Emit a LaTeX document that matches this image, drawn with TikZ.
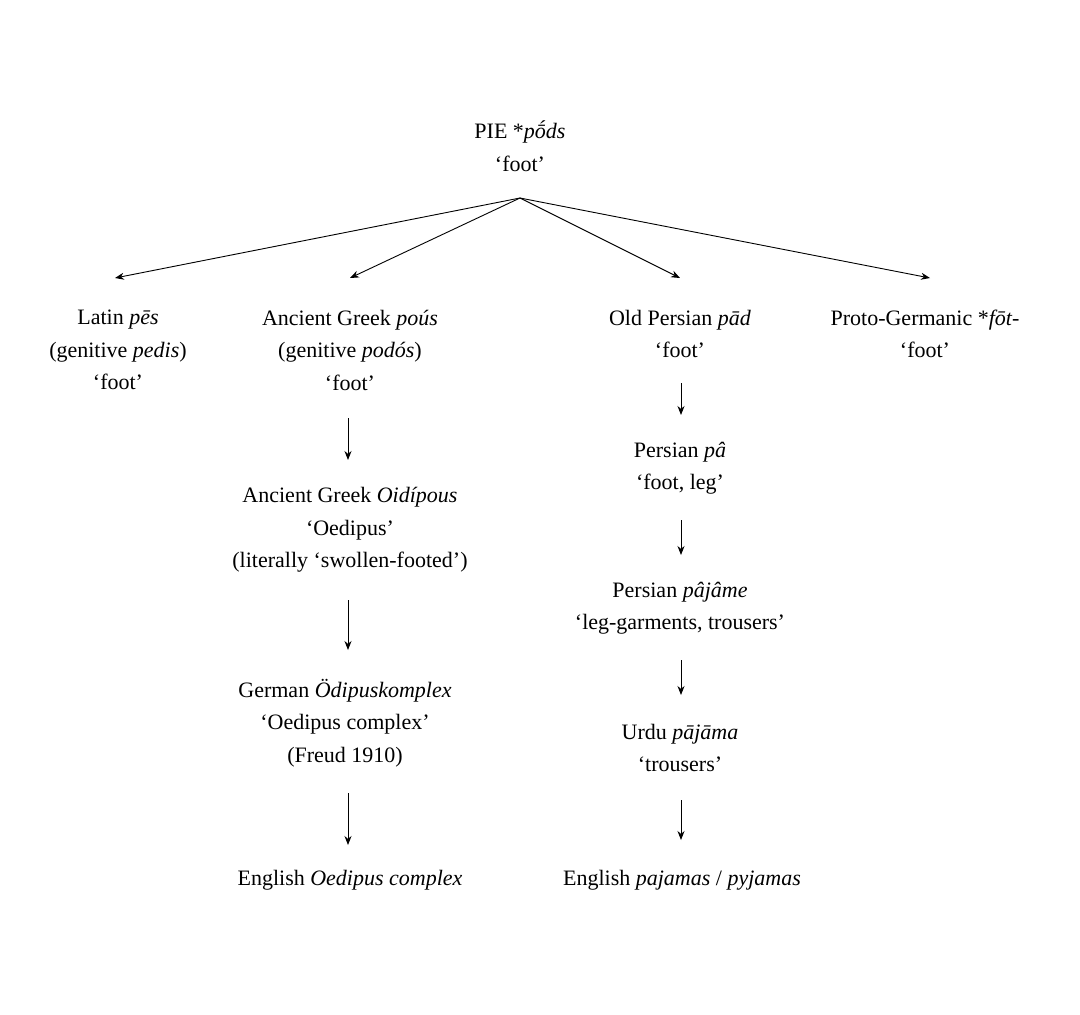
\documentclass[tikz,border=0pt]{standalone}
\usepackage{fontspec}
\setmainfont{Liberation Serif}
\usetikzlibrary{arrows.meta}
\begin{document}
\begin{tikzpicture}[x=1pt,y=-1pt,
  lbl/.style={align=center,font=\fontsize{22}{32.5}\selectfont,inner sep=0pt,outer sep=14pt},
  arr/.style={-{Stealth[length=9pt,width=7pt]},line width=0.9pt}]
\useasboundingbox (0,0) rectangle (1080,1015);
\node[lbl] (pie) at (520,146) {PIE *\textit{pṓds}\\‘foot’};
\node[lbl] (lat) at (118,350) {Latin \textit{pēs}\\(genitive \textit{pedis})\\‘foot’};
\node[lbl] (gr) at (350,350) {Ancient Greek \textit{poús}\\(genitive \textit{podós})\\‘foot’};
\node[lbl] (op) at (680,334) {Old Persian \textit{pād}\\‘foot’};
\node[lbl] (pg) at (925,334) {Proto-Germanic *\textit{fōt-}\\‘foot’};
\node[lbl] (oid) at (350,530) {Ancient Greek \textit{Oidípous}\\‘Oedipus’\\(literally ‘swollen-footed’)};
\node[lbl] (ger) at (345,723) {German \textit{Ödipuskomplex}\\‘Oedipus complex’\\(Freud 1910)};
\node[lbl] (eno) at (350,880) {English \textit{Oedipus complex}};
\node[lbl] (pa) at (680,468) {Persian \textit{pâ}\\‘foot, leg’};
\node[lbl] (paj) at (680,608) {Persian \textit{pâjâme}\\‘leg-garments, trousers’};
\node[lbl] (urdu) at (680,748) {Urdu \textit{pājāma}\\‘trousers’};
\node[lbl] (enp) at (682,880) {English \textit{pajamas} / \textit{pyjamas}};
\coordinate (top) at (520,198);
\foreach \t/\e in {lat/{(115,278)},gr/{(350,278)},op/{(680,278)},pg/{(930,278)}}
  \draw[arr] (top) -- \e;
\draw[arr] (348,418) -- (348,460);
\draw[arr] (348,600) -- (348,650);
\draw[arr] (348,793) -- (348,845);
\draw[arr] (681,383) -- (681,415);
\draw[arr] (681,520) -- (681,555);
\draw[arr] (681,660) -- (681,695);
\draw[arr] (681,800) -- (681,840);
\end{tikzpicture}
\end{document}
